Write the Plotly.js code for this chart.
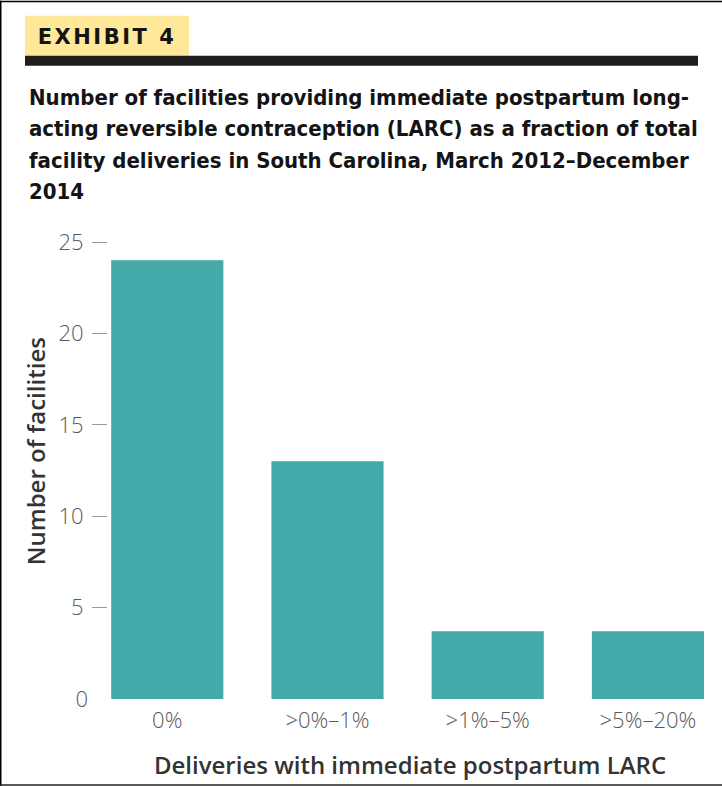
<!DOCTYPE html>
<html>
<head>
<meta charset="utf-8">
<script src="https://cdn.plot.ly/plotly-3.0.1.min.js"></script>
<style>
  html, body { margin: 0; padding: 0; background: #fff; }
  #chart { width: 722px; height: 786px; }
</style>
</head>
<body>
<div id="chart"></div>
<script>
// Share of deliveries with immediate postpartum LARC, per facility group
const categories = ['0%', '>0%–1%', '>1%–5%', '>5%–20%'];
const facilities = [24, 13, 3.7, 3.7];
const yTickValues = [5, 10, 15, 20, 25];
const zeroTick = [0];

const exhibitLabel = 'EXHIBIT 4';
const titleLines = [
  'Number of facilities providing immediate postpartum long-',
  'acting reversible contraception (LARC) as a fraction of total',
  'facility deliveries in South Carolina, March 2012–December',
  '2014'
];
const xTitle = 'Deliveries with immediate postpartum LARC';
const yTitle = 'Number of facilities';

// Page geometry (pixels) and helpers to convert to paper coordinates
const W = 722, H = 786;
const M = { l: 108, r: 10, t: 241.5, b: 87 };
const pw = W - M.l - M.r, ph = H - M.t - M.b;
const px = x => (x - M.l) / pw;
const py = y => (H - M.b - y) / ph;

const tickFont = { family: 'Open Sans', size: 22, color: '#5a5a5a', weight: 300 };
const axisTitleFont = { family: 'Open Sans', size: 24, color: '#333', weight: 600 };

const trace = {
  type: 'bar',
  x: categories,
  y: facilities,
  width: 0.7,
  marker: { color: '#43a9a9', line: { width: 0 } },
  hoverinfo: 'none'
};

const annotations = [
  {
    xref: 'paper', yref: 'paper', x: px(107), y: py(36),
    xanchor: 'center', yanchor: 'middle', showarrow: false,
    text: '<b>' + exhibitLabel + '</b>',
    font: { family: 'DejaVu Sans', size: 21, color: '#141414' }
  },
  {
    xref: 'paper', yref: 'paper', x: px(35), y: py(451),
    xanchor: 'center', yanchor: 'middle', showarrow: false, textangle: -90,
    text: yTitle, font: axisTitleFont
  }
];
const lineY = [97, 128, 160, 191];
titleLines.forEach((t, i) => {
  annotations.push({
    xref: 'paper', yref: 'paper', x: px(27), y: py(lineY[i]),
    xanchor: 'left', yanchor: 'middle', showarrow: false, align: 'left',
    text: '<b>' + t + '</b>',
    font: { family: 'DejaVu Sans Condensed', size: 22, color: '#141414' }
  });
});

const shapes = [
  // yellow exhibit tab
  { type: 'rect', xref: 'paper', yref: 'paper', x0: px(25), x1: px(189), y0: py(55), y1: py(15),
    fillcolor: '#ffe899', line: { width: 0 }, layer: 'below' },
  // dark rule under the tab
  { type: 'rect', xref: 'paper', yref: 'paper', x0: px(25), x1: px(698), y0: py(65), y1: py(55),
    fillcolor: '#1e1e1e', line: { width: 0 } },
  // page frame: left, top, bottom
  { type: 'line', xref: 'paper', yref: 'paper', x0: px(0.75), x1: px(0.75), y0: py(0), y1: py(786),
    line: { color: '#000', width: 1.5 } },
  { type: 'line', xref: 'paper', yref: 'paper', x0: px(0), x1: px(722), y0: py(0.75), y1: py(0.75),
    line: { color: '#000', width: 1.5 } },
  { type: 'line', xref: 'paper', yref: 'paper', x0: px(0), x1: px(722), y0: py(785), y1: py(785),
    line: { color: '#222', width: 1.5 } }
];

const layout = {
  width: W, height: H,
  margin: M,
  paper_bgcolor: '#fff', plot_bgcolor: '#fff',
  showlegend: false,
  xaxis: {
    type: 'category',
    range: [-0.37, 3.4],
    showgrid: false, zeroline: false, showline: false,
    ticks: '',
    tickfont: tickFont,
    ticklabelstandoff: 6,
    title: { text: xTitle, font: axisTitleFont, standoff: 24 }
  },
  yaxis: {
    range: [0, 25],
    tickvals: yTickValues,
    ticks: 'outside', ticklen: 15, tickcolor: '#9a9a9a', tickwidth: 1,
    showgrid: false, zeroline: false, showline: false,
    tickfont: tickFont,
    ticklabelstandoff: 4
  },
  yaxis2: {
    overlaying: 'y',
    side: 'left',
    range: [0, 25],
    tickvals: zeroTick,
    ticks: '',
    showgrid: false, zeroline: false, showline: false,
    tickfont: tickFont,
    ticklabelstandoff: 19
  },
  shapes: shapes,
  annotations: annotations
};

// invisible trace so the secondary axis carries the "0" label
const zeroAxisTrace = { type: 'scatter', x: [categories[0]], y: [0], yaxis: 'y2',
  mode: 'markers', marker: { opacity: 0 }, hoverinfo: 'none' };

Plotly.newPlot('chart', [trace, zeroAxisTrace], layout, { staticPlot: true }).then(() => {
  document.querySelectorAll('.annotation-text').forEach(el => {
    if (el.textContent === exhibitLabel) el.style.letterSpacing = '2.5px';
  });
});
</script>
</body>
</html>
